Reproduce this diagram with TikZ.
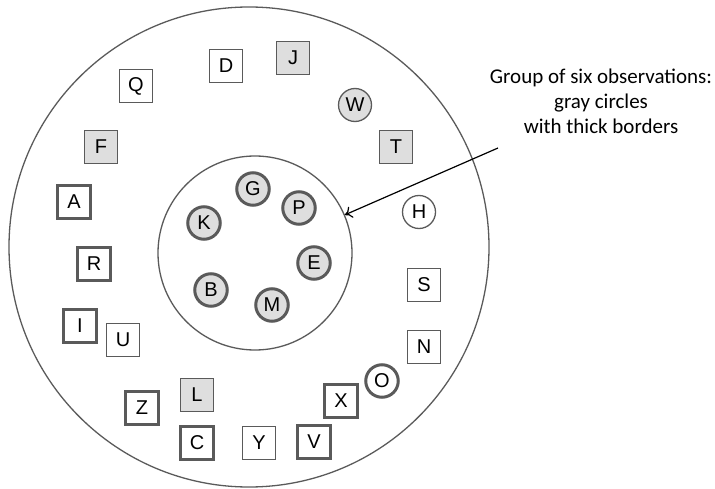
\documentclass[tikz,border=0pt]{standalone}
\usepackage{fontspec}
\setmainfont{Liberation Sans}
\newfontfamily\notefont{Carlito}
\usetikzlibrary{arrows.meta}
\definecolor{bord}{HTML}{5A5A5A}
\definecolor{gfill}{HTML}{DEDEDE}
\begin{document}
\begin{tikzpicture}[x=1pt,y=-1pt,
  letter/.style={font=\fontsize{20}{20}\selectfont, text=black},
  sq/.style={letter, rectangle, draw=bord, line width=1.3pt, minimum size=33pt, inner sep=0pt, fill=white},
  sqthick/.style={sq, line width=3pt, minimum size=33pt},
  sqgray/.style={sq, fill=gfill},
  cir/.style={letter, circle, draw=bord, line width=1.3pt, minimum size=33pt, inner sep=0pt, fill=white},
  cirthick/.style={cir, line width=3pt, minimum size=32.5pt},
  cirgray/.style={cir, fill=gfill},
  cirgt/.style={cirthick, fill=gfill},
  ring/.style={circle, draw=bord, line width=1.3pt, inner sep=0pt},
  note/.style={font=\notefont\fontsize{21}{25}\selectfont, align=center, text=black}]
\useasboundingbox (0,0) rectangle (715,489);
% rings
\node[ring, minimum size=480pt] (outer) at (249,247) {};
\node[ring, minimum size=194pt] (inner) at (255,253) {};
% group inside
\node[cirgt] (G) at (253,189) {G};
\node[cirgt] (P) at (299,208) {P};
\node[cirgt] (K) at (204,223) {K};
\node[cirgt] (E) at (314,263) {E};
\node[cirgt] (B) at (211,290) {B};
\node[cirgt] (M) at (272,305) {M};
% outer items
\node[sq] (Q) at (136,86) {Q};
\node[sq] (D) at (226,66) {D};
\node[sqgray] (J) at (293,58) {J};
\node[cirgray] (W) at (355,105) {W};
\node[sqgray] (F) at (101,147) {F};
\node[sqgray] (T) at (396,147) {T};
\node[cir] (H) at (419,212) {H};
\node[sqthick] (A) at (74,202) {A};
\node[sqthick] (R) at (94,264) {R};
\node[sq] (S) at (424,285) {S};
\node[sqthick] (I) at (80,326) {I};
\node[sq] (U) at (123,340) {U};
\node[sq] (N) at (424,347) {N};
\node[cirthick] (O) at (382,381) {O};
\node[sqgray] (L) at (197,395) {L};
\node[sqthick] (Z) at (142,408) {Z};
\node[sqthick] (X) at (341,401) {X};
\node[sqthick] (C) at (197,443) {C};
\node[sq] (Y) at (259,443) {Y};
\node[sqthick] (V) at (314,442) {V};
% annotation
\node[note] (txt) at (601,101) {Group of six observations:\\gray circles\\with thick borders};
\coordinate (start) at (498,148);
\draw[line width=1.2pt, -{To[length=7pt,width=12pt]}] (start) -- (inner.23);
\end{tikzpicture}
\end{document}
